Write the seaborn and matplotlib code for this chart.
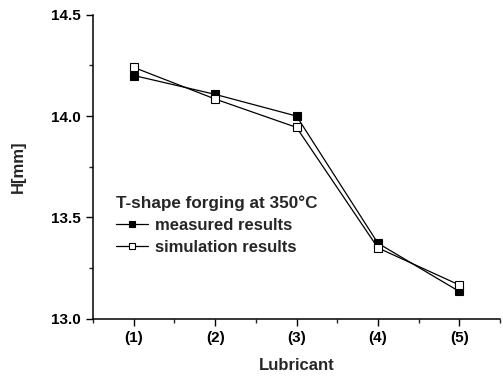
import matplotlib
matplotlib.use("Agg")
import matplotlib.pyplot as plt
import seaborn as sns
import pandas as pd
from matplotlib.ticker import MultipleLocator

categories = ["(1)", "(2)", "(3)", "(4)", "(5)"]
measured = [14.20, 14.107, 14.0, 13.373, 13.135]
simulation = [14.24, 14.084, 13.944, 13.35, 13.167]

sns.set_theme(style="ticks")
plt.rcParams['font.family'] = ['Liberation Sans', 'DejaVu Sans']
plt.rcParams['font.weight'] = 'bold'

pos = list(range(1, len(categories) + 1))
df = pd.DataFrame({"pos": pos, "measured": measured, "simulation": simulation})

fig = plt.figure(figsize=(5.03, 3.76), dpi=100)
ax = fig.add_axes([0.185, 0.152, 0.809, 0.809])

sns.lineplot(data=df, x="pos", y="measured", ax=ax, color="black", lw=0.9,
             marker="s", markersize=5.5, markerfacecolor="black",
             markeredgecolor="black", markeredgewidth=0.8, label="measured results")
sns.lineplot(data=df, x="pos", y="simulation", ax=ax, color="black", lw=0.9,
             marker="s", markersize=5.5, markerfacecolor="white",
             markeredgecolor="black", markeredgewidth=0.8, label="simulation results")

ax.set_xlim(0.5, 5.5)
ax.set_ylim(13.0, 14.5)
ax.set_xticks(pos)
ax.set_xticklabels(categories, fontsize=11, fontweight="bold")
ax.set_yticks([13.0, 13.5, 14.0, 14.5])
ax.set_yticklabels(["13.0", "13.5", "14.0", "14.5"], fontsize=11, fontweight="bold")
ax.xaxis.set_minor_locator(MultipleLocator(0.5))
ax.yaxis.set_minor_locator(MultipleLocator(0.25))
ax.tick_params(which="major", direction="out", length=5, width=1, pad=4, colors="black")
ax.tick_params(which="minor", direction="out", length=3, width=1)
ax.set_xlabel("Lubricant", fontsize=12, fontweight="bold", labelpad=9)
ax.set_ylabel("H[mm]", fontsize=12, fontweight="bold", labelpad=18)

for s in ["top", "right"]:
    ax.spines[s].set_visible(False)
for s in ["left", "bottom"]:
    ax.spines[s].set_linewidth(1.1)
    ax.spines[s].set_color("black")

leg = ax.legend(loc="upper left", bbox_to_anchor=(0.057, 0.405), frameon=False,
                title="T-shape forging at 350°C", handlelength=1.9, handletextpad=0.4,
                borderaxespad=0, borderpad=0, labelspacing=0.42, markerscale=0.75,
                prop={"size": 12, "weight": "bold"})
leg.get_title().set_fontsize(12.3)
leg.get_title().set_fontweight("bold")
leg._legend_box.align = "left"

fig.savefig("out.png", dpi=100)
